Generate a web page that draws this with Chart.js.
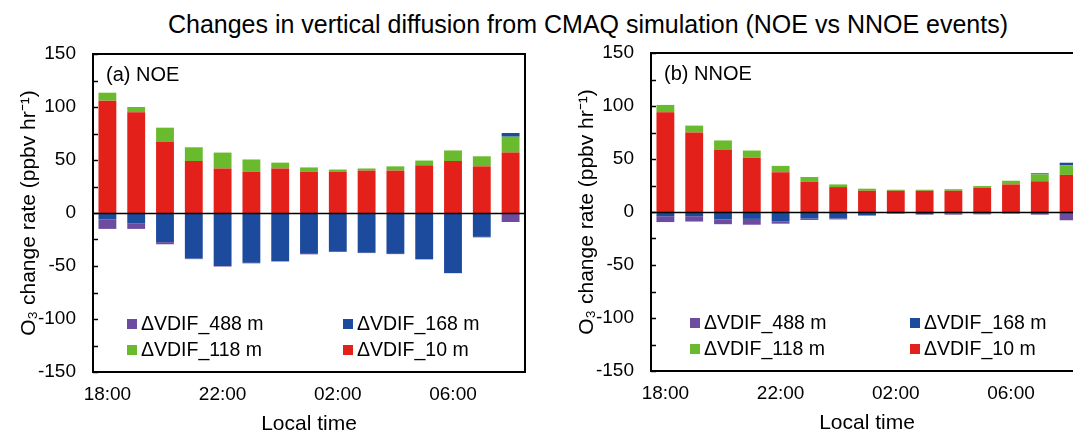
<!DOCTYPE html>
<html>
<head>
<meta charset="utf-8">
<script src="https://cdn.jsdelivr.net/npm/chart.js@4.4.1/dist/chart.umd.min.js"></script>
<style>
  html, body { margin: 0; padding: 0; background: #fff; }
  body { width: 1073px; height: 430px; overflow: hidden; position: relative; }
  #title {
    position: absolute; left: 0; top: 10px; width: 1176px; text-align: center;
    font: 25px/28px "Liberation Sans", Arial, sans-serif; color: #000; white-space: nowrap;
  }
  .panel { position: absolute; top: 0; width: 558px; height: 430px; }
  #panelA { left: 0; }
  #panelB { left: 558px; top: -1px; }
</style>
</head>
<body>
<div id="title">Changes in vertical diffusion from CMAQ simulation (NOE vs NNOE events)</div>
<div class="panel" id="panelA"><canvas id="chartA"></canvas></div>
<div class="panel" id="panelB"><canvas id="chartB"></canvas></div>
<script>
const hours = ["18:00", "19:00", "20:00", "21:00", "22:00", "23:00", "00:00", "01:00",
  "02:00", "03:00", "04:00", "05:00", "06:00", "07:00", "08:00"];
const shownHours = ["18:00", "22:00", "02:00", "06:00"];
const yTicksLabelled = [-150, -100, -50, 0, 50, 100, 150];

// (a) NOE
const noeVdif10 = [106, 95, 67.5, 49, 42, 39, 42, 39, 39, 40, 40, 45, 49, 44, 57];
const noeVdif118 = [7.5, 5, 13, 13, 15, 11.5, 5.5, 4, 2, 2, 4, 4.5, 10, 9.5, 15];
const noeVdif168 = [-6, -10, -27.5, -43, -50, -47, -45.5, -38.5, -36.5, -37.5, -38.5, -43.5, -56.5, -22.5, 3.5];
const noeVdif488 = [-9, -5, -2, -0.5, -0.5, -0.5, -0.3, -0.5, -0.3, -0.3, -0.3, -0.3, -0.3, -0.5, -8.5];

// (b) NNOE
const nnoeVdif10 = [94, 75, 59, 51, 37.5, 28.5, 23.5, 20, 20, 20, 20, 23, 26, 29, 35];
const nnoeVdif118 = [7, 6.5, 8.5, 7, 6, 4.5, 2.5, 2, 1, 1, 1.5, 1.5, 3.5, 6.5, 9];
const nnoeVdif168 = [-4, -4, -7, -6.5, -9, -6, -6, -3, -1.2, -2, -1.5, -1.5, -1, 1, 2.5];
const nnoeVdif488 = [-5.5, -5, -4.5, -5.5, -2, -1.5, -1, -0.5, -0.4, -0.5, -1, -0.7, -0.5, -2.5, -7.8];

const seriesNames = ["\u0394VDIF_10 m", "\u0394VDIF_118 m", "\u0394VDIF_168 m", "\u0394VDIF_488 m"];
const seriesColors = ["#e4201b", "#6aba2e", "#1c4a9c", "#6d4c9f"];

const FONT = "'Liberation Sans', Arial, sans-serif";

// frame, inward ticks, zero line, legend and panel tag
const framePlugin = {
  id: "frame",
  afterDatasetsDraw(chart) {
    const { ctx, chartArea: a, scales: { y } } = chart;
    ctx.save();
    ctx.strokeStyle = "#000";
    ctx.lineWidth = 1.5;
    const y0 = Math.round(y.getPixelForValue(0)) + 0.5;
    ctx.beginPath();
    ctx.moveTo(a.left, y0);
    ctx.lineTo(a.right, y0);
    ctx.stroke();
    y.ticks.forEach((t) => {
      const py = Math.round(y.getPixelForValue(t.value)) + 0.5;
      ctx.beginPath();
      ctx.moveTo(a.left, py);
      ctx.lineTo(a.left + 5, py);
      ctx.stroke();
    });
    ctx.lineWidth = 2;
    ctx.strokeRect(a.left, a.top, a.right - a.left, a.bottom - a.top);
    ctx.restore();
  },
  afterDraw(chart, args, opts) {
    const { ctx, chartArea: a } = chart;
    ctx.save();
    ctx.fillStyle = "#000";
    ctx.textBaseline = "middle";
    ctx.font = "20px " + FONT;
    ctx.fillText(opts.tag, a.left + 13, a.top + 21);

    const ds = chart.data.datasets.slice().reverse();
    ctx.font = "19.5px " + FONT;
    ds.forEach((d, i) => {
      const col = i % 2;
      const row = Math.floor(i / 2);
      const x = a.left + (col === 0 ? opts.x1 : opts.x2);
      const cy = a.bottom - 48 + row * 26;
      ctx.fillStyle = d.backgroundColor;
      ctx.fillRect(x, cy - 5, 10, 10);
      ctx.fillStyle = "#000";
      ctx.fillText(d.label, x + 14, cy + 1);
    });
    ctx.restore();
  },
};

function makeChart(id, tag, legendX1, legendX2, v10, v118, v168, v488) {
  const values = [v10, v118, v168, v488];
  return new Chart(document.getElementById(id), {
    type: "bar",
    data: {
      labels: hours,
      datasets: values.map((v, i) => ({
        label: seriesNames[i],
        data: v,
        backgroundColor: seriesColors[i],
        borderWidth: 0,
        barPercentage: 0.62,
        categoryPercentage: 1,
      })),
    },
    options: {
      responsive: true,
      maintainAspectRatio: false,
      animation: false,
      layout: { padding: { top: 54, right: 33, left: 0, bottom: 0 } },
      plugins: {
        legend: { display: false },
        tooltip: { enabled: false },
        frame: { tag: tag, x1: legendX1, x2: legendX2 },
      },
      scales: {
        x: {
          stacked: true,
          grid: { display: false },
          border: { display: false },
          afterFit(scale) { scale.height = 58; },
          ticks: {
            autoSkip: false,
            maxRotation: 0,
            padding: 3,
            color: "#000",
            font: { family: FONT, size: 19 },
            callback: function (value, index) {
              const lab = hours[index];
              return shownHours.includes(lab) ? lab : "";
            },
          },
          title: {
            display: true,
            text: "Local time",
            color: "#000",
            font: { family: FONT, size: 21, lineHeight: 1 },
            padding: { top: 0, bottom: -5 },
          },
        },
        y: {
          stacked: true,
          min: -150,
          max: 150,
          grid: { display: false, drawTicks: false },
          border: { display: false },
          afterFit(scale) { scale.width = 93; },
          ticks: {
            stepSize: 25,
            padding: 17,
            color: "#000",
            font: { family: FONT, size: 19 },
            callback: function (value) {
              return yTicksLabelled.includes(value) ? value : "";
            },
          },
          title: {
            display: true,
            text: "O\u2083 change rate (ppbv hr\u207B\u00B9)",
            color: "#000",
            font: { family: FONT, size: 21, lineHeight: 1.2 },
            padding: { top: 17, bottom: 0 },
          },
        },
      },
    },
    plugins: [framePlugin],
  });
}

makeChart("chartA", "(a) NOE", 34, 250, noeVdif10, noeVdif118, noeVdif168, noeVdif488);
makeChart("chartB", "(b) NNOE", 39, 259, nnoeVdif10, nnoeVdif118, nnoeVdif168, nnoeVdif488);
</script>
</body>
</html>
